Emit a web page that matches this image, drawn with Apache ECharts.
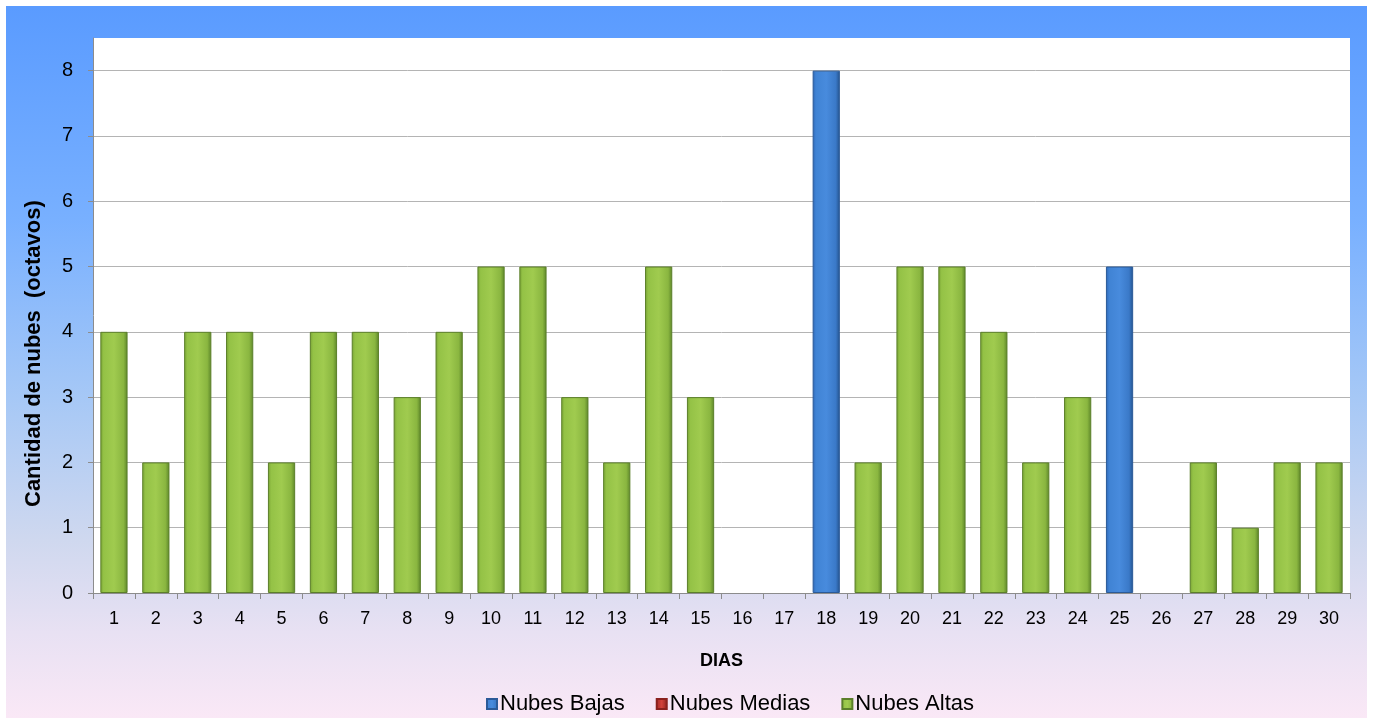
<!DOCTYPE html>
<html>
<head>
<meta charset="utf-8">
<script src="https://cdn.jsdelivr.net/npm/echarts@6/dist/echarts.min.js"></script>
<style>
html,body{margin:0;padding:0;background:#fff;}
#chart{width:1373px;height:720px;}
</style>
</head>
<body>
<div id="chart"></div>
<script>
var days = ['1','2','3','4','5','6','7','8','9','10','11','12','13','14','15','16','17','18','19','20','21','22','23','24','25','26','27','28','29','30'];
var nubesBajas = ['-','-','-','-','-','-','-','-','-','-','-','-','-','-','-','-','-',8,'-','-','-','-','-','-',5,'-','-','-','-','-'];
var nubesMedias = ['-','-','-','-','-','-','-','-','-','-','-','-','-','-','-','-','-','-','-','-','-','-','-','-','-','-','-','-','-','-'];
var nubesAltas = [4,2,4,4,2,4,4,3,4,5,5,3,2,5,3,'-','-','-',2,5,5,4,2,3,'-','-',2,1,2,2];
var yTicks = [0,1,2,3,4,5,6,7,8];

var FONT = '"Liberation Sans", Arial, sans-serif';
var chart = echarts.init(document.getElementById('chart'));
function hgrad(stops){
  return new echarts.graphic.LinearGradient(0,0,1,0,stops.map(function(s){return {offset:s[0],color:s[1]};}));
}
var greenFill = hgrad([[0,'#78a234'],[0.12,'#94c246'],[0.5,'#a0cb4f'],[0.85,'#8ab640'],[1,'#5c8529']]);
var blueFill = hgrad([[0,'#2d66b5'],[0.12,'#4083d4'],[0.5,'#488bdd'],[0.85,'#3a79c8'],[1,'#23528c']]);
var redFill = hgrad([[0,'#a32a26'],[0.5,'#d2423c'],[1,'#8a211e']]);

var splitColors = yTicks.map(function(){return '#b4b4b4';}).concat(['rgba(0,0,0,0)']);

chart.setOption({
  animation:false,
  graphic:[
    {type:'rect',z:-10,shape:{x:6,y:6,width:1361,height:712},
     style:{fill:new echarts.graphic.LinearGradient(0,0,0,1,[
       {offset:0,color:'#5a9bff'},{offset:0.3,color:'#78b0ff'},{offset:0.55,color:'#a6c8f6'},
       {offset:0.75,color:'#cfd8ef'},{offset:0.88,color:'#e8e1f3'},{offset:1,color:'#fae8f6'}])}},
    {type:'text',rotation:Math.PI/2,x:23,y:507,
     style:{text:'Cantidad de nubes  (octavos)',font:'bold 22px ' + FONT,fill:'#000'}}
  ],
  grid:{left:93,right:23,top:38,bottom:127,show:true,backgroundColor:'#ffffff',borderWidth:0},
  legend:{
    top:693,left:486,padding:0,itemWidth:10,itemHeight:10,itemGap:31,
    icon:'rect',
    textStyle:{fontSize:22,color:'#000',fontFamily:FONT,padding:[0,0,0,-2]},
    data:['Nubes Bajas','Nubes Medias','Nubes Altas']
  },
  xAxis:{
    type:'category',data:days,
    name:'DIAS',nameLocation:'middle',nameGap:59,
    nameTextStyle:{fontWeight:'bold',fontSize:18,color:'#000',fontFamily:FONT},
    axisLine:{lineStyle:{color:'#8c8c8c',width:1}},
    axisTick:{show:true,length:6,lineStyle:{color:'#8c8c8c'}},
    axisLabel:{fontSize:18,color:'#000',margin:17,fontFamily:FONT}
  },
  yAxis:{
    type:'value',min:0,max:8.5,interval:1,
    axisLine:{show:true,lineStyle:{color:'#8c8c8c',width:1}},
    axisTick:{show:true,length:5,lineStyle:{color:'#8c8c8c'}},
    axisLabel:{fontSize:20,color:'#000',margin:20,showMaxLabel:false,fontFamily:FONT},
    splitLine:{show:true,lineStyle:{color:splitColors,width:1}}
  },
  series:[
    {name:'Nubes Bajas',type:'bar',stack:'a',data:nubesBajas,barCategoryGap:'35%',
     itemStyle:{color:blueFill,borderColor:'#2b5a98',borderWidth:1}},
    {name:'Nubes Medias',type:'bar',stack:'a',data:nubesMedias,
     itemStyle:{color:redFill,borderColor:'#8a211e',borderWidth:1}},
    {name:'Nubes Altas',type:'bar',stack:'a',data:nubesAltas,
     itemStyle:{color:greenFill,borderColor:'#5b7f2a',borderWidth:1}}
  ]
});
</script>
</body>
</html>
